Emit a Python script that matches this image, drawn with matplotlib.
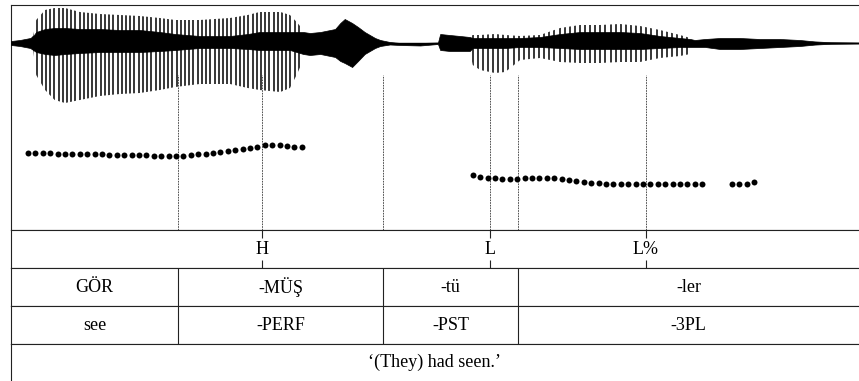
import numpy as np
import matplotlib.pyplot as plt
from matplotlib.patches import Polygon

plt.rcParams['font.family'] = ['Liberation Serif', 'DejaVu Serif']

# Time axis (s)
T_END = 1.146
FRAME_STEP = 0.01

# Waveform envelope keypoints (time s, amplitude)
wave_t = [0.000, 0.012, 0.026, 0.030, 0.034, 0.046, 0.059, 0.073, 0.093, 0.120,
          0.147, 0.174, 0.201, 0.222, 0.255, 0.296, 0.320, 0.336, 0.364, 0.377,
          0.386, 0.395, 0.404, 0.418, 0.438, 0.445, 0.451, 0.461, 0.469, 0.478,
          0.492, 0.499, 0.512, 0.526, 0.553, 0.577, 0.580, 0.593, 0.607, 0.620,
          0.624, 0.634, 0.654, 0.668, 0.688, 0.715, 0.742, 0.769, 0.796, 0.823,
          0.850, 0.877, 0.904, 0.918, 0.924, 0.938, 0.958, 0.985, 1.012, 1.039,
          1.066, 1.086, 1.107, 1.146]
wave_top = [0.05, 0.075, 0.125, 0.175, 0.575, 0.825, 0.875, 0.875, 0.775, 0.725,
            0.7, 0.675, 0.625, 0.575, 0.575, 0.625, 0.7, 0.775, 0.775, 0.7,
            0.525, 0.325, 0.25, 0.275, 0.35, 0.5, 0.6, 0.5, 0.4, 0.275,
            0.125, 0.075, 0.025, 0.0, 0.0, 0.0125, 0.225, 0.2, 0.175, 0.15,
            0.2, 0.2, 0.225, 0.2, 0.175, 0.2, 0.375, 0.45, 0.45, 0.475,
            0.425, 0.325, 0.2, 0.125, 0.075, 0.1, 0.125, 0.125, 0.1, 0.1,
            0.075, 0.04, 0.02, 0.0125]
wave_bot = [-0.05, -0.075, -0.125, -0.175, -0.8, -1.175, -1.425, -1.5, -1.425, -1.325,
            -1.275, -1.25, -1.175, -1.1, -1.025, -1.025, -1.125, -1.175, -1.225, -1.125,
            -0.8, -0.425, -0.3, -0.275, -0.35, -0.45, -0.5, -0.6, -0.45, -0.275,
            -0.125, -0.075, -0.0375, -0.05, -0.0625, -0.025, -0.175, -0.2, -0.2, -0.2,
            -0.55, -0.675, -0.75, -0.725, -0.425, -0.375, -0.475, -0.5, -0.5, -0.475,
            -0.475, -0.375, -0.325, -0.275, -0.1, -0.1, -0.15, -0.15, -0.125, -0.1,
            -0.075, -0.04, -0.02, -0.0125]
core_top = [0.05, 0.075, 0.125, 0.175, 0.275, 0.35, 0.375, 0.375, 0.35, 0.35,
            0.325, 0.325, 0.275, 0.225, 0.175, 0.175, 0.225, 0.275, 0.275, 0.275,
            0.275, 0.275, 0.25, 0.275, 0.35, 0.5, 0.6, 0.5, 0.4, 0.275,
            0.125, 0.075, 0.025, 0.0, 0.0, 0.0125, 0.225, 0.2, 0.175, 0.15,
            0.125, 0.125, 0.125, 0.125, 0.125, 0.15, 0.225, 0.275, 0.275, 0.275,
            0.25, 0.175, 0.125, 0.1, 0.075, 0.1, 0.125, 0.125, 0.1, 0.1,
            0.075, 0.04, 0.02, 0.0125]
core_bot = [-0.05, -0.075, -0.125, -0.175, -0.225, -0.275, -0.3, -0.275, -0.25, -0.225,
            -0.225, -0.225, -0.2, -0.175, -0.125, -0.125, -0.15, -0.175, -0.175, -0.175,
            -0.225, -0.275, -0.3, -0.275, -0.35, -0.45, -0.5, -0.6, -0.45, -0.275,
            -0.125, -0.075, -0.0375, -0.05, -0.0625, -0.025, -0.175, -0.2, -0.2, -0.2,
            -0.125, -0.125, -0.125, -0.125, -0.1, -0.1, -0.125, -0.15, -0.15, -0.15,
            -0.15, -0.125, -0.1, -0.1, -0.1, -0.1, -0.15, -0.15, -0.125, -0.1,
            -0.075, -0.04, -0.02, -0.0125]

# Voiced stretches with their glottal period (s)
voiced_start = [0.030, 0.624]
voiced_end = [0.392, 0.918]
voiced_period = [0.0057, 0.0069]

# Pitch track (Hz), one value per 10 ms frame
pitch_starts = [0.023, 0.624, 0.974]
pitch_left = [202.7, 202.5, 202.4, 202.3, 202.0, 201.9, 201.6, 201.3, 201.2, 200.9,
              200.7, 200.5, 200.3, 200.0, 199.9, 199.7, 199.5, 199.3, 199.2, 199.1,
              198.9, 199.3, 200.0, 200.8, 201.7, 202.9, 204.3, 205.6, 207.1, 208.5,
              210.0, 211.3, 212.9, 213.3, 212.9, 212.3, 211.3, 210.3]
pitch_right = [172.9, 171.1, 169.9, 168.9, 168.5, 168.4, 168.5, 169.1, 169.3, 169.5,
               169.3, 168.9, 168.3, 167.2, 165.9, 164.5, 163.3, 162.5, 162.0, 161.7,
               161.6, 161.5, 161.3, 161.3, 161.3, 161.3, 161.3, 161.3, 161.2, 161.2,
               161.1, 161.1]
pitch_tail = [161.3, 161.3, 161.3, 164.0]

# Annotation tiers
tone_times = [0.339, 0.647, 0.858]
tone_labels = ['H', 'L', 'L%']
morph_bounds = [0.226, 0.503, 0.685]
morphemes = ['GÖR', '-MÜŞ', '-tü', '-ler']
glosses = ['see', '-PERF', '-PST', '-3PL']
translation = '‘(They) had seen.’'

W, H = 859, 381
fig = plt.figure(figsize=(W / 100, H / 100), dpi=100)
left = 11 / W
width = 1 - left


def rect(top_px, bot_px):
    return [left, 1 - bot_px / H, width, (bot_px - top_px) / H]


def style(ax):
    ax.set_xlim(0, T_END)
    ax.set_xticks([])
    ax.set_yticks([])
    ax.spines['right'].set_visible(False)
    for s in ['left', 'top', 'bottom']:
        ax.spines[s].set_linewidth(0.8)
        ax.spines[s].set_color('#222222')


# Waveform + pitch panel
ax = fig.add_axes(rect(5, 230))
style(ax)
ax.set_ylim(-4.675, 0.95)

# dashed guide lines at boundaries and tones
guides = sorted(morph_bounds + tone_times)
ax.vlines(guides, 0, 0.689, transform=ax.get_xaxis_transform(),
          colors='#333333', linestyles=(0, (2, 1.2)), linewidth=0.6, zorder=1)

ax.axhline(0, color='black', linewidth=1.0, zorder=2)
ax.fill_between(wave_t, core_bot, core_top, color='black', linewidth=0.5, zorder=3)

env = Polygon(list(zip(wave_t, wave_top)) + list(zip(wave_t[::-1], wave_bot[::-1])),
              closed=True, facecolor='none', edgecolor='none')
ax.add_patch(env)
pulses = np.concatenate([np.arange(s, e, p) for s, e, p in
                         zip(voiced_start, voiced_end, voiced_period)])
vl = ax.vlines(pulses, -2, 1, colors='black', linewidth=1.1, zorder=3)
vl.set_clip_path(env)

axp = ax.twinx()
axp.set_ylim(100, 400)
axp.set_xlim(0, T_END)
axp.set_yticks([])
for s in axp.spines.values():
    s.set_visible(False)
for start, vals in zip(pitch_starts, [pitch_left, pitch_right, pitch_tail]):
    t = start + FRAME_STEP * np.arange(len(vals))
    axp.plot(t, vals, 'o', color='black', markersize=4.3, markeredgewidth=0)

# Tone tier
axt = fig.add_axes(rect(230, 268))
style(axt)
axt.set_ylim(0, 1)
axt.vlines(tone_times, 0.79, 1, colors='#222222', linewidth=0.8)
axt.vlines(tone_times, 0, 0.21, colors='#222222', linewidth=0.8)
for t, lab in zip(tone_times, tone_labels):
    axt.text(t, 0.5, lab, ha='center', va='center', fontsize=13)

# Interval tiers
edges = [0] + morph_bounds + [T_END]
mids = [(a + b) / 2 for a, b in zip(edges[:-1], edges[1:])]
for top, labels in [(268, morphemes), (306, glosses)]:
    a = fig.add_axes(rect(top, top + 38))
    style(a)
    a.set_ylim(0, 1)
    a.vlines(morph_bounds, 0, 1, colors='#222222', linewidth=0.8)
    for m, lab in zip(mids, labels):
        a.text(m, 0.5, lab, ha='center', va='center', fontsize=13)

# Translation tier
axr = fig.add_axes(rect(344, 390))
style(axr)
axr.set_ylim(0, 1)
axr.text(T_END / 2, 1 - 18.5 / 46, translation, ha='center', va='center', fontsize=13)

fig.savefig('out.png', dpi=100)
